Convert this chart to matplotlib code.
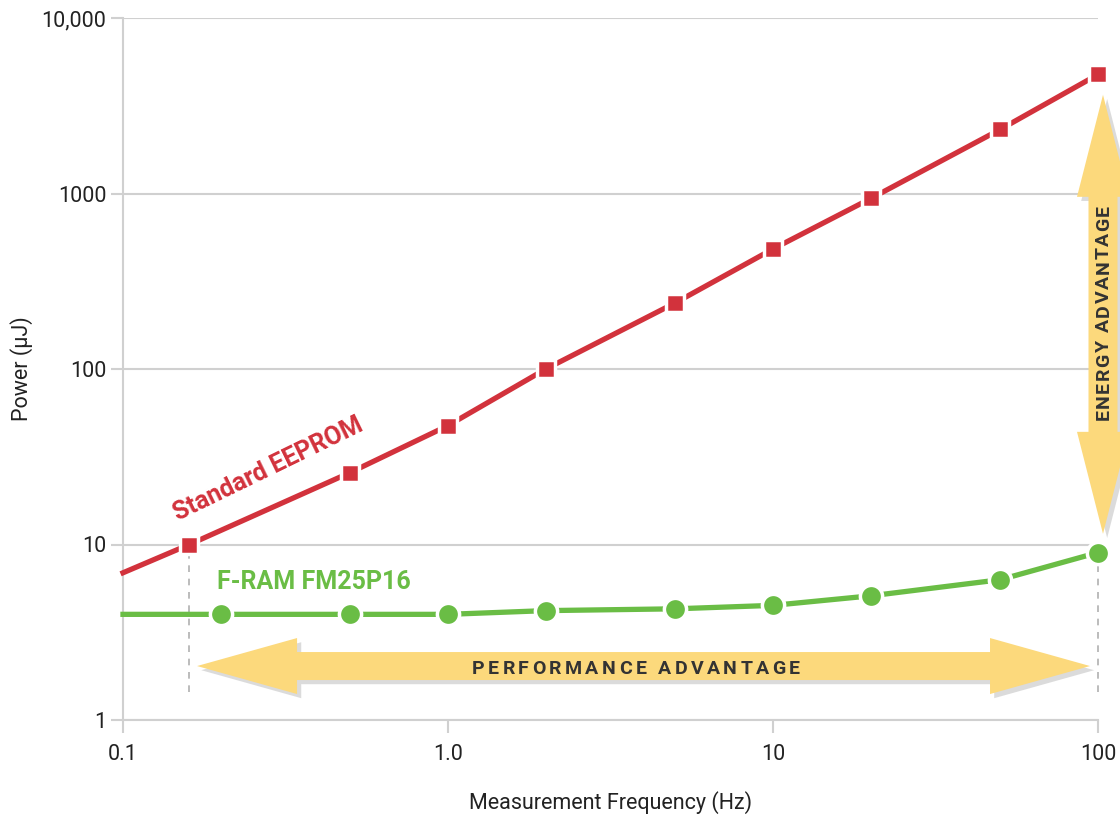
import matplotlib
matplotlib.use("Agg")
import matplotlib.pyplot as plt
import matplotlib.patheffects as pe
from matplotlib.patches import Polygon
import numpy as np

plt.rcParams['font.family'] = ['Roboto', 'DejaVu Sans']

# ---- data ----
eeprom_freq = [0.1, 0.16, 0.5, 1.0, 2.0, 5.0, 10.0, 20.0, 50.0, 100.0]
eeprom_power = [6.9, 10.0, 25.7, 47.6, 100.0, 238.0, 483.0, 937.0, 2317.0, 4766.0]
fram_freq = [0.1, 0.2, 0.5, 1.0, 2.0, 5.0, 10.0, 20.0, 50.0, 100.0]
fram_power = [4.0, 4.0, 4.0, 4.0, 4.2, 4.3, 4.5, 5.1, 6.3, 9.0]
x_ticks = [0.1, 1.0, 10, 100]
x_ticklabels = ['0.1', '1.0', '10', '100']
y_ticks = [1, 10, 100, 1000, 10000]
y_ticklabels = ['1', '10', '100', '1000', '10,000']
perf_range = [0.169, 94.5]      # horizontal arrow extent (Hz)
perf_level = 2.03               # horizontal arrow y level
energy_range = [11.5, 3650.0]   # vertical arrow extent (uJ)
guide_x = [0.16, 100.0]         # dashed guide positions
guide_y = [1.45, 10.0]

RED = '#d2323c'
GREEN = '#6abd45'
YELLOW = '#fcd97c'
GRID = '#d0d0d0'
DARK = '#333333'

W, H = 1120, 819
fig = plt.figure(figsize=(W / 100, H / 100), dpi=100)
ax = fig.add_axes([123/W, 1-720/H, (1098-123)/W, (720-18)/H])
ax.set_xscale('log')
ax.set_yscale('log')
ax.set_xlim(0.1, 100)
ax.set_ylim(1, 10000)

for s in ['top', 'right']:
    ax.spines[s].set_visible(False)
for s in ['left', 'bottom']:
    ax.spines[s].set_color(GRID)
    ax.spines[s].set_linewidth(1.5)

ax.set_xticks(x_ticks)
ax.set_xticklabels(x_ticklabels)
ax.set_yticks(y_ticks)
ax.set_yticklabels(y_ticklabels)
ax.minorticks_off()
ax.tick_params(axis='both', colors=GRID, length=9, width=1.5, labelcolor='#222222',
               labelsize=15.5)
ax.tick_params(axis='x', pad=8)
ax.tick_params(axis='y', pad=3)
ax.yaxis.grid(True, color=GRID, linewidth=1.5)
ax.set_axisbelow(True)

ax.set_xlabel('Measurement Frequency (Hz)', fontsize=15.5, color='#222222', labelpad=19)
ax.set_ylabel('Power (µJ)', fontsize=15.5, color='#222222', labelpad=6)

# dashed guides
for gx in guide_x:
    ax.plot([gx, gx], guide_y, color='#b0b0b0', linestyle=(0, (4, 4)), linewidth=1.2,
            zorder=1, clip_on=False)

fig.canvas.draw()
renderer = fig.canvas.get_renderer()
td = ax.transData

def harrow(x0, x1, y, half_shaft, half_head, head_len):
    (px0, py), (px1, _) = td.transform([(x0, y), (x1, y)])
    return [(px0, py), (px0 + head_len, py + half_head), (px0 + head_len, py + half_shaft),
            (px1 - head_len, py + half_shaft), (px1 - head_len, py + half_head), (px1, py),
            (px1 - head_len, py - half_head), (px1 - head_len, py - half_shaft),
            (px0 + head_len, py - half_shaft), (px0 + head_len, py - half_head)]

def varrow(px, y0, y1, half_shaft, half_head, head_len):
    (_, py0), (_, py1) = td.transform([(1, y0), (1, y1)])
    return [(px, py0), (px - half_head, py0 + head_len), (px - half_shaft, py0 + head_len),
            (px - half_shaft, py1 - head_len), (px - half_head, py1 - head_len), (px, py1),
            (px + half_head, py1 - head_len), (px + half_shaft, py1 - head_len),
            (px + half_shaft, py0 + head_len), (px + half_head, py0 + head_len)]

shadow = [pe.SimplePatchShadow(offset=(3, -3), shadow_rgbFace='#9a9a9a', alpha=0.35), pe.Normal()]

hp = Polygon(harrow(perf_range[0], perf_range[1], perf_level, 14, 28, 100), closed=True,
             facecolor=YELLOW, edgecolor='none', transform=None, zorder=2)
hp.set_path_effects(shadow)
fig.add_artist(hp)

xr_pix = td.transform([(100, 1)])[0][0] + 5
vp = Polygon(varrow(xr_pix, energy_range[0], energy_range[1], 14.5, 26, 102), closed=True,
             facecolor=YELLOW, edgecolor='none', transform=None, zorder=2)
vp.set_path_effects(shadow)
fig.add_artist(vp)

def tracked_text(s, cx, cy, width, vertical=False, size=13):
    """Place string s centered at display (cx, cy) spanning `width` pixels."""
    arts, ws = [], []
    cap = 0.71 * size * 100 / 72
    for ch in s:
        t = fig.text(0, 0, ch, fontsize=size, fontweight='bold', color=DARK,
                     rotation=90 if vertical else 0, ha='left', va='baseline',
                     rotation_mode='anchor', zorder=6)
        bb = t.get_window_extent(renderer)
        ws.append(bb.height if vertical else bb.width)
        arts.append(t)
    gap = (width - sum(ws)) / (len(s) - 1)
    pos = -width / 2
    for t, w in zip(arts, ws):
        if vertical:
            t.set_position(((cx + cap / 2) / W, (cy + pos) / H))
        else:
            t.set_position(((cx + pos) / W, (cy - cap / 2) / H))
        pos += w + gap

tracked_text('PERFORMANCE ADVANTAGE', 636, H - 667, 328, size=14)
tracked_text('ENERGY ADVANTAGE', xr_pix - 1, H - 313, 215, vertical=True, size=14)

# series
ax.plot(eeprom_freq, eeprom_power, color=RED, linewidth=3.8, marker='s', markersize=13,
        markerfacecolor=RED, markeredgecolor='white', markeredgewidth=2.5,
        markevery=list(range(1, len(eeprom_freq))), zorder=4, clip_on=False)
ax.plot(fram_freq, fram_power, color=GREEN, linewidth=3.8, marker='o', markersize=16,
        markerfacecolor=GREEN, markeredgecolor='white', markeredgewidth=2.5,
        markevery=list(range(1, len(fram_freq))), zorder=4, clip_on=False)

ax.text(0.28, 27, 'Standard EEPROM', rotation=26, rotation_mode='anchor', ha='center',
        va='center', fontsize=18, fontweight='bold', color=RED)
ax.text(0.195, 6.1, 'F-RAM FM25P16', ha='left', va='center', fontsize=18,
        fontweight='bold', color=GREEN)

fig.savefig('out.png', dpi=100)
